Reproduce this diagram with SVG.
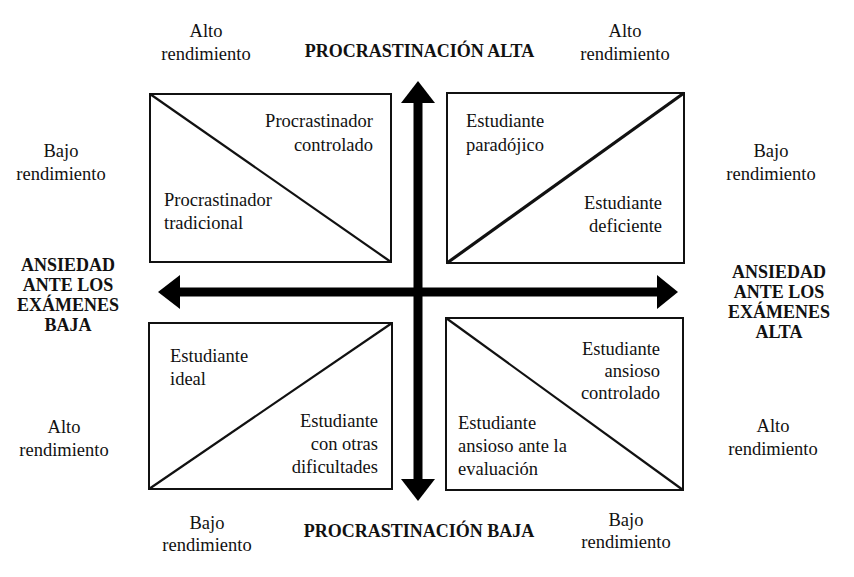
<svg xmlns="http://www.w3.org/2000/svg" width="854" height="577" viewBox="0 0 854 577">
<style>
text{fill:#111;}
.t{font-size:18.5px;}
.b{font-size:18px;font-weight:bold;}
.m{text-anchor:middle;}
.e{text-anchor:end;}
.box{fill:#fff;stroke:#111;stroke-width:2;}
.diag{stroke:#111;stroke-width:2.2;fill:none;}
.arrow{fill:#000;}
</style>
<rect width="854" height="577" fill="#fff"/>
<g font-family="Liberation Serif, serif">

<g id="q-top-left">
<rect class="box" x="150" y="94" width="241" height="168"/>
<line class="diag" x1="150" y1="94" x2="391" y2="262"/>
<text class="t e" x="373" y="127" font-family="Liberation Serif, serif">Procrastinador</text>
<text class="t e" x="373" y="151" font-family="Liberation Serif, serif">controlado</text>
<text class="t" x="164" y="206" font-family="Liberation Serif, serif">Procrastinador</text>
<text class="t" x="164" y="229" font-family="Liberation Serif, serif">tradicional</text>
</g>

<g id="q-top-right">
<rect class="box" x="447" y="93" width="237" height="170"/>
<line class="diag" x1="447" y1="263" x2="684" y2="93" style="stroke-width:3.2"/>
<text class="t" x="466" y="127" font-family="Liberation Serif, serif">Estudiante</text>
<text class="t" x="466" y="151" font-family="Liberation Serif, serif">paradójico</text>
<text class="t e" x="662" y="209" font-family="Liberation Serif, serif">Estudiante</text>
<text class="t e" x="662" y="232" font-family="Liberation Serif, serif">deficiente</text>
</g>

<g id="q-bottom-left">
<rect class="box" x="149" y="323" width="243" height="166"/>
<line class="diag" x1="149" y1="489" x2="392" y2="323"/>
<text class="t" x="170" y="362" font-family="Liberation Serif, serif">Estudiante</text>
<text class="t" x="170" y="385" font-family="Liberation Serif, serif">ideal</text>
<text class="t e" x="378" y="427" font-family="Liberation Serif, serif">Estudiante</text>
<text class="t e" x="378" y="450" font-family="Liberation Serif, serif">con otras</text>
<text class="t e" x="378" y="473" font-family="Liberation Serif, serif">dificultades</text>
</g>

<g id="q-bottom-right">
<rect class="box" x="446" y="318" width="237" height="172"/>
<line class="diag" x1="446" y1="318" x2="683" y2="490"/>
<text class="t e" x="660" y="355" font-family="Liberation Serif, serif">Estudiante</text>
<text class="t e" x="660" y="377" font-family="Liberation Serif, serif">ansioso</text>
<text class="t e" x="660" y="399" font-family="Liberation Serif, serif">controlado</text>
<text class="t" x="458" y="429" font-family="Liberation Serif, serif">Estudiante</text>
<text class="t" x="458" y="452" font-family="Liberation Serif, serif">ansioso ante la</text>
<text class="t" x="458" y="475" font-family="Liberation Serif, serif">evaluación</text>
</g>

<g id="connectors">
<rect class="arrow" x="413.5" y="100" width="9" height="383"/>
<polygon class="arrow" points="418,81 401,103 435,103"/>
<polygon class="arrow" points="401,479 435,479 418,501"/>
<rect class="arrow" x="177" y="287.5" width="483" height="9"/>
<polygon class="arrow" points="158,292 180,275 180,309"/>
<polygon class="arrow" points="678,292 657,275 657,309"/>
</g>

<g id="axis-labels" font-family="Liberation Serif, serif">
<text class="b m" x="419.5" y="57" font-family="Liberation Serif, serif">PROCRASTINACIÓN ALTA</text>
<text class="b m" x="419" y="537" font-family="Liberation Serif, serif">PROCRASTINACIÓN BAJA</text>
<text class="b m" x="68" y="271" font-family="Liberation Serif, serif">ANSIEDAD</text>
<text class="b m" x="68" y="291" font-family="Liberation Serif, serif">ANTE LOS</text>
<text class="b m" x="68" y="311" font-family="Liberation Serif, serif">EXÁMENES</text>
<text class="b m" x="68" y="331" font-family="Liberation Serif, serif">BAJA</text>
<text class="b m" x="779" y="278" font-family="Liberation Serif, serif">ANSIEDAD</text>
<text class="b m" x="779" y="298" font-family="Liberation Serif, serif">ANTE LOS</text>
<text class="b m" x="779" y="318" font-family="Liberation Serif, serif">EXÁMENES</text>
<text class="b m" x="779" y="338" font-family="Liberation Serif, serif">ALTA</text>
</g>

<g id="performance-labels" font-family="Liberation Serif, serif">
<text class="t m" x="206" y="37" font-family="Liberation Serif, serif">Alto</text>
<text class="t m" x="206" y="60" font-family="Liberation Serif, serif">rendimiento</text>
<text class="t m" x="625" y="37" font-family="Liberation Serif, serif">Alto</text>
<text class="t m" x="625" y="60" font-family="Liberation Serif, serif">rendimiento</text>
<text class="t m" x="61" y="157" font-family="Liberation Serif, serif">Bajo</text>
<text class="t m" x="61" y="180" font-family="Liberation Serif, serif">rendimiento</text>
<text class="t m" x="771" y="157" font-family="Liberation Serif, serif">Bajo</text>
<text class="t m" x="771" y="180" font-family="Liberation Serif, serif">rendimiento</text>
<text class="t m" x="64" y="433" font-family="Liberation Serif, serif">Alto</text>
<text class="t m" x="64" y="456" font-family="Liberation Serif, serif">rendimiento</text>
<text class="t m" x="773" y="432" font-family="Liberation Serif, serif">Alto</text>
<text class="t m" x="773" y="455" font-family="Liberation Serif, serif">rendimiento</text>
<text class="t m" x="207" y="529" font-family="Liberation Serif, serif">Bajo</text>
<text class="t m" x="207" y="551" font-family="Liberation Serif, serif">rendimiento</text>
<text class="t m" x="626" y="526" font-family="Liberation Serif, serif">Bajo</text>
<text class="t m" x="626" y="548" font-family="Liberation Serif, serif">rendimiento</text>
</g>
</g>
</svg>
